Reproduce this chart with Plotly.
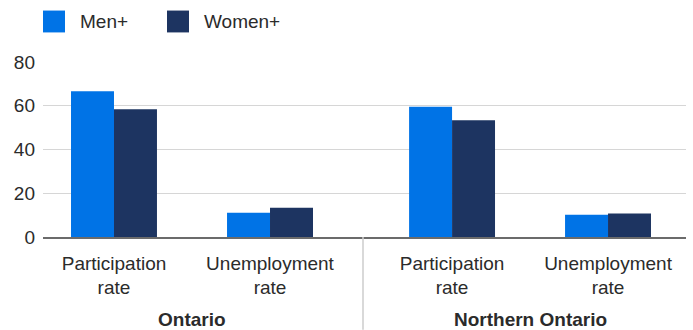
import plotly.graph_objects as go

# Labour-force indicators (%) by region
regions = ["Ontario", "Northern Ontario"]
measures = ["Participation rate", "Unemployment rate"]
measure_labels = ["Participation<br>rate", "Unemployment<br>rate"]
series_names = ["Men+", "Women+"]

men_ontario = [66.6, 11.1]
women_ontario = [58.4, 13.4]
men_northern = [59.5, 10.2]
women_northern = [53.4, 10.7]

y_ticks = [0, 20, 40, 60, 80]

MEN_COLOR = "#0073E6"
WOMEN_COLOR = "#1D3461"
TEXT_COLOR = "#2b2b2b"
FONT = "Liberation Sans, Arial, sans-serif"

fig = go.Figure()

region_series = [
    (men_ontario, women_ontario, "x", "y"),
    (men_northern, women_northern, "x2", "y2"),
]
for men_vals, women_vals, xa, ya in region_series:
    fig.add_trace(go.Bar(x=measures, y=men_vals, name=series_names[0],
                         marker=dict(color=MEN_COLOR, line=dict(width=0)),
                         xaxis=xa, yaxis=ya, showlegend=False))
    fig.add_trace(go.Bar(x=measures, y=women_vals, name=series_names[1],
                         marker=dict(color=WOMEN_COLOR, line=dict(width=0)),
                         xaxis=xa, yaxis=ya, showlegend=False))

split = 320 / 643

common_x = dict(type="category", tickvals=measures, ticktext=measure_labels,
                showgrid=False, showline=True, linecolor="#6b6b6b", linewidth=1.5,
                ticks="", tickfont=dict(size=19, color=TEXT_COLOR, family=FONT),
                fixedrange=True, ticklabelstandoff=8)

common_y = dict(range=[0, 80], tickvals=y_ticks, showgrid=True,
                gridcolor="#d6d6d6", gridwidth=1, zeroline=False,
                ticks="", fixedrange=True)

fig.update_layout(
    width=693, height=330,
    margin=dict(l=43, r=7, t=61.7, b=92.5),
    paper_bgcolor="white", plot_bgcolor="white",
    barmode="group", bargap=0.449, bargroupgap=0,
    showlegend=False,
    font=dict(family=FONT, size=19, color=TEXT_COLOR),
    xaxis=dict(common_x, domain=[0, split], range=[-0.455, 1.596]),
    xaxis2=dict(common_x, domain=[split, 1], range=[-0.571, 1.5], anchor="y2"),
    yaxis=dict(common_y, tickfont=dict(size=19, color=TEXT_COLOR, family=FONT),
               ticklabelstandoff=7),
    yaxis2=dict(common_y, anchor="x2", matches="y", showticklabels=False),
)

# Region group labels under the category labels
for i, region in enumerate(regions):
    xref = "x" if i == 0 else "x2"
    fig.add_annotation(x=0.5, xref=xref, y=-0.473, yref="paper",
                       text=f"<b>{region}</b>", showarrow=False,
                       xanchor="center", yanchor="middle", borderpad=0,
                       font=dict(size=19, color=TEXT_COLOR, family=FONT))

# Divider between the two regions
fig.add_shape(type="line", xref="paper", yref="paper",
              x0=split, x1=split, y0=0, y1=-0.53,
              line=dict(color="#cccccc", width=1.5))

# Legend keys
legend_items = [(series_names[0], MEN_COLOR, 0.0), (series_names[1], WOMEN_COLOR, 124 / 643)]
for name, color, x0 in legend_items:
    fig.add_shape(type="rect", xref="paper", yref="paper",
                  x0=x0, x1=x0 + 22 / 643, y0=1.169, y1=1.294,
                  fillcolor=color, line=dict(width=0))
    fig.add_annotation(x=x0 + 35 / 643, xref="paper", y=1.2315, yref="paper",
                       text=name, showarrow=False, xanchor="left", yanchor="middle",
                       font=dict(size=19, color=TEXT_COLOR, family=FONT))

fig.write_html("out.html")
